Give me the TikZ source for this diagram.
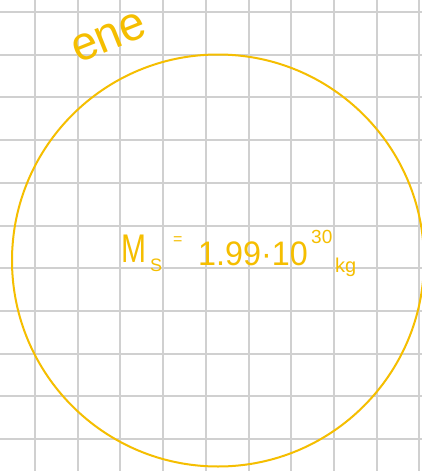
\documentclass[tikz,border=0pt]{standalone}
\usepackage{fontspec}
\setmainfont{Liberation Sans}
\definecolor{sunyellow}{RGB}{245,190,0}
\definecolor{gridgray}{RGB}{208,208,208}
\tikzset{
  gridline/.style={draw=gridgray, line width=2pt},
  sunline/.style={draw=sunyellow, line width=2pt},
  hand/.style={text=sunyellow, inner sep=0pt, anchor=base west}
}
\begin{document}
\begin{tikzpicture}[x=1pt,y=-1pt]
\useasboundingbox (0,0) rectangle (422,471);
\fill[white] (0,0) rectangle (422,471);
% grid
\foreach \k in {0,...,9} {
  \draw[gridline] ({35+42.7*\k},0) -- ({35+42.7*\k},471);
}
\foreach \k in {0,...,10} {
  \draw[gridline] (0,{12+42.7*\k}) -- (422,{12+42.7*\k});
}
% sun
\draw[sunline] (218,260.5) circle[radius=206];
% labels
\node[hand, rotate=22, font=\fontsize{40}{40}\selectfont, xscale=1.15, yscale=1.2] (ene) at (78,64) {ene};
\node[hand, font=\fontsize{40}{40}\selectfont, xscale=0.75] (mass) at (121,262) {M};
\node[hand, font=\fontsize{18}{18}\selectfont] (sub) at (150,271) {S};
\node[hand, font=\fontsize{16}{16}\selectfont] (eq) at (173,244) {=};
\node[hand, font=\fontsize{34}{34}\selectfont, xscale=0.95] (num) at (198,265) {1.99·10};
\node[hand, font=\fontsize{19}{19}\selectfont] (exp) at (311,243) {30};
\node[hand, font=\fontsize{20}{20}\selectfont] (unit) at (335,272) {kg};
\end{tikzpicture}
\end{document}
